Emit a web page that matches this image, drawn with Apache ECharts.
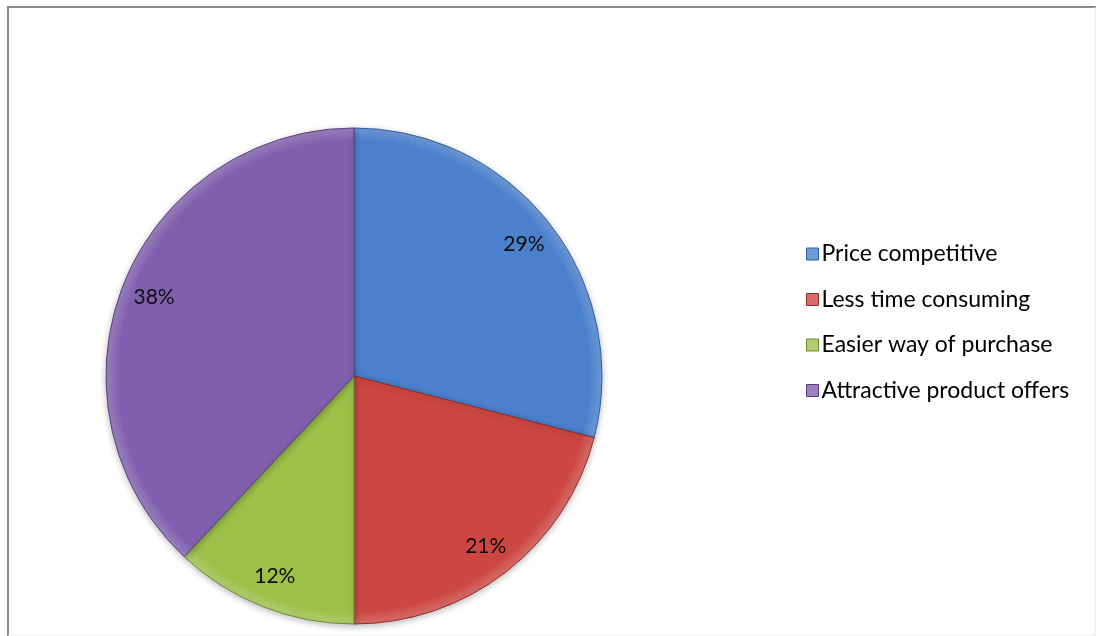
<!DOCTYPE html>
<html>
<head>
<meta charset="utf-8">
<script src="https://cdn.jsdelivr.net/npm/echarts@6/dist/echarts.min.js"></script>
<style>
  html, body { margin: 0; padding: 0; background: #fff; }
  #chart { width: 1096px; height: 636px; }
</style>
</head>
<body>
<div id="chart"></div>
<script>
// Reasons for preferring online shopping (share of respondents, %)
const categories = ['Price competitive', 'Less time consuming', 'Easier way of purchase', 'Attractive product offers'];
const shares = [29, 21, 12, 38];
const sliceColors = ['#4a80cc', '#cc4642', '#9cc048', '#8060ad'];
const edgeColors = ['#2f5f9e', '#8e2c2a', '#6d8a2c', '#5a3f80'];

const CX = 354, CY = 376, R = 248;

// bevel-like darkening toward the rim of the whole pie
function shade(base) {
  return {
    type: 'radial', x: CX, y: CY, r: R, global: true,
    colorStops: [
      { offset: 0, color: base },
      { offset: 0.95, color: base },
      { offset: 1, color: echarts.color.lift(base, 0.22) }
    ]
  };
}

const pieData = categories.map((name, i) => ({
  name: name,
  value: shares[i],
  itemStyle: { color: shade(sliceColors[i]), borderColor: edgeColors[i] }
}));

const labelData = categories.map((name, i) => ({ name: name, value: shares[i] }));

const chart = echarts.init(document.getElementById('chart'));
chart.setOption({
  animation: false,
  backgroundColor: '#ffffff',
  color: sliceColors,
  graphic: [
    { type: 'line', shape: { x1: 8, y1: 7, x2: 8, y2: 636 }, style: { stroke: '#8a8a8a', lineWidth: 2 } },
    { type: 'line', shape: { x1: 7, y1: 7, x2: 1096, y2: 7 }, style: { stroke: '#8a8a8a', lineWidth: 2 } },
    { type: 'line', shape: { x1: 1095, y1: 7, x2: 1095, y2: 636 }, style: { stroke: '#e6e6e6', lineWidth: 1 } },
    { type: 'line', shape: { x1: 8, y1: 635, x2: 1096, y2: 635 }, style: { stroke: '#eeeeee', lineWidth: 1 } }
  ],
  legend: {
    orient: 'vertical',
    left: 801,
    top: 237,
    itemWidth: 12,
    itemHeight: 12,
    itemGap: 21.5,
    icon: 'rect',
    data: categories,
    itemStyle: { borderWidth: 1 },
    textStyle: { fontFamily: 'Lato, "Open Sans", sans-serif', fontSize: 23, color: '#000', padding: [0, 0, 0, -2], lineHeight: 24 }
  },
  series: [
    {
      type: 'pie',
      center: [CX, CY],
      radius: [0, R],
      startAngle: 90,
      clockwise: true,
      label: { show: false },
      labelLine: { show: false },
      silent: true,
      itemStyle: {
        borderWidth: 1,
        shadowBlur: 6,
        shadowOffsetY: 2,
        shadowColor: 'rgba(0,0,0,0.25)'
      },
      data: pieData
    },
    {
      type: 'pie',
      center: [CX, CY],
      radius: [176, R],
      startAngle: 90,
      clockwise: true,
      silent: true,
      legendHoverLink: false,
      itemStyle: { color: 'rgba(0,0,0,0)' },
      label: {
        show: true,
        position: 'inside',
        formatter: '{c}%',
        fontFamily: 'Lato, "Open Sans", sans-serif',
        fontSize: 21,
        color: '#0d0d0d'
      },
      labelLine: { show: false },
      data: labelData
    }
  ]
});
</script>
</body>
</html>
